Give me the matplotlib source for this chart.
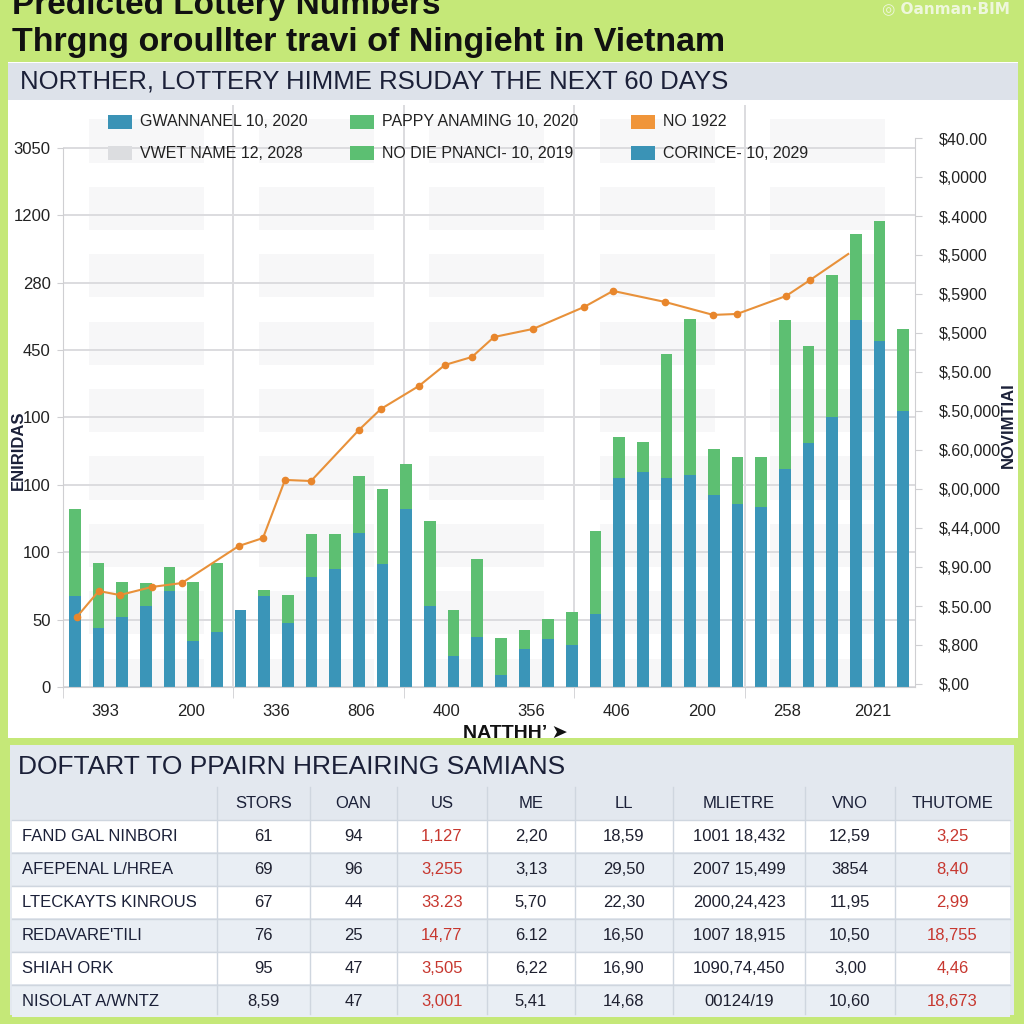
import numpy as np
import matplotlib
matplotlib.use('Agg')
import matplotlib.pyplot as plt
from matplotlib.patches import Rectangle
from matplotlib.transforms import blended_transform_factory

plt.rcParams['font.family'] = ['Liberation Sans', 'DejaVu Sans']

# ---- chart data (left-axis units) ----
blue_vals = [67.5, 43.8, 51.9, 60.1, 71.2, 34.1, 40.8, 57.1, 67.5, 47.5, 81.6, 87.5,
             114.2, 91.2, 132.0, 60.1, 23.0, 37.1, 8.9, 28.2, 35.6, 31.2, 54.2, 155.0,
             159.5, 155.0, 157.3, 142.4, 135.7, 133.5, 161.7, 181.0, 200.3, 272.2, 256.7, 204.7]
green_vals = [64.5, 48.2, 26.0, 17.0, 17.8, 43.8, 51.2, 0.0, 4.5, 20.7, 31.9, 26.0,
              42.3, 55.7, 33.4, 63.0, 34.1, 57.9, 27.4, 14.1, 14.8, 24.4, 61.5, 30.5,
              22.2, 92.0, 115.7, 34.1, 34.9, 37.1, 110.5, 72.0, 105.3, 63.8, 89.0, 60.9]
line_x = [0.08, 1.01, 1.90, 3.25, 4.52, 6.93, 7.95, 8.88, 9.98, 12.0, 12.93, 14.54,
          15.64, 16.78, 17.71, 19.36, 21.52, 22.74, 24.94, 26.97, 27.98, 30.05, 31.07, 32.68]
line_y = [51.9, 71.2, 68.2, 74.2, 77.1, 104.6, 110.5, 153.6, 152.8, 190.6, 206.2, 223.3,
          238.9, 244.8, 259.6, 265.6, 281.9, 293.8, 285.6, 276.0, 276.7, 290.0, 301.9, 321.2]

left_ticks = [0, 50, 100, 150, 200, 250, 300, 350, 400]
left_labels = ['0', '50', '100', '100', '100', '450', '280', '1200', '3050']
right_labels = ['$,00', '$,800', '$.50.00', '$,90.00', '$,44,000', '$,00,000', '$.60,000',
                '$.50,000', '$,50.00', '$,5000', '$,5900', '$,5000', '$.4000', '$,0000', '$40.00']
x_labels = ['393', '200', '336', '806', '400', '356', '406', '200', '258', '2021']

legend_items = [
    ('GWANNANEL 10, 2020', '#3b93b6'), ('PAPPY ANAMING 10, 2020', '#5cbf75'), ('NO 1922', '#f0953a'),
    ('VWET NAME 12, 2028', '#dcdde0'), ('NO DIE PNANCI- 10, 2019', '#5cbf72'), ('CORINCE- 10, 2029', '#3a93b6'),
]

# ---- table data ----
table_title = 'DOFTART TO PPAIRN HREAIRING SAMIANS'
col_names = ['STORS', 'OAN', 'US', 'ME', 'LL', 'MLIETRE', 'VNO', 'THUTOME']
row_names = ['FAND GAL NINBORI', 'AFEPENAL L/HREA', 'LTECKAYTS KINROUS',
             "REDAVARE'TILI", 'SHIAH ORK', 'NISOLAT A/WNTZ']
stors = ['61', '69', '67', '76', '95', '8,59']
oan = ['94', '96', '44', '25', '47', '47']
us = ['1,127', '3,255', '33.23', '14,77', '3,505', '3,001']
me = ['2,20', '3,13', '5,70', '6.12', '6,22', '5,41']
ll = ['18,59', '29,50', '22,30', '16,50', '16,90', '14,68']
mlietre = ['1001 18,432', '2007 15,499', '2000,24,423', '1007 18,915', '1090,74,450', '00124/19']
vno = ['12,59', '3854', '11,95', '10,50', '3,00', '10,60']
thutome = ['3,25', '8,40', '2,99', '18,755', '4,46', '18,673']
red_cols = {'US', 'THUTOME'}

BLUE = '#3a95b8'
GREEN = '#5dbf72'
ORANGE = '#e8913a'
NAVY = '#1b2038'

fig = plt.figure(figsize=(10.24, 10.24), dpi=100, facecolor='#c5e878')

# background overlay in pixel coordinates
bg = fig.add_axes([0, 0, 1, 1], zorder=-2)
bg.set_xlim(0, 1024)
bg.set_ylim(1024, 0)
bg.axis('off')
bg.add_patch(Rectangle((8, 62), 1010, 676, facecolor='white', edgecolor='none'))
bg.add_patch(Rectangle((8, 63), 1010, 37, facecolor='#dde2ea', edgecolor='none'))
bg.text(20, 82, 'NORTHER, LOTTERY HIMME RSUDAY THE NEXT 60 DAYS', fontsize=18.5,
        color=NAVY, va='center', ha='left')
bg.text(12, 14, 'Predicted Lottery Numbers', fontsize=24, fontweight='bold',
        color='#111111', va='baseline', ha='left')
bg.text(12, 51, 'Thrgng oroullter travi of Ningieht in Vietnam', fontsize=24.5,
        fontweight='bold', color='#111111', va='baseline', ha='left')
bg.text(1010, 9, '\u25CE Oanman\u00b7BIM', fontsize=11, fontweight='bold',
        color='#eef7dc', va='center', ha='right', family=['DejaVu Sans'])

# ---- main chart ----
ax = fig.add_axes([63 / 1024, 1 - 687 / 1024, 852 / 1024, 582 / 1024], zorder=1)
ax.set_facecolor('none')
x = np.arange(len(blue_vals))
ax.set_xlim(-0.5, len(blue_vals) - 0.5)
ax.set_ylim(0, 431.7)

# faint background blocks
tr = blended_transform_factory(ax.transAxes, ax.transData)
for j in range(5):
    for v in left_ticks:
        ax.add_patch(Rectangle((0.2 * j + 0.03, v + 5 - 16), 0.135, 32, transform=tr,
                               facecolor='#f7f7f8', edgecolor='none', zorder=0.1, clip_on=True))

for v in left_ticks:
    ax.axhline(v, color='#dcdcdf', lw=1.4, zorder=0.5)
for fx in [0.2, 0.4, 0.6, 0.8]:
    ax.axvline(-0.5 + fx * 36, color='#dcdcdf', lw=1.4, zorder=0.5)

ax.bar(x, blue_vals, width=0.5, color=BLUE, zorder=2)
ax.bar(x, green_vals, width=0.5, bottom=blue_vals, color=GREEN, zorder=2)
ax.plot(line_x, line_y, color=ORANGE, lw=1.5, marker='o', ms=4.5,
        markevery=list(range(len(line_x) - 1)), mfc='#e8862c', mec='#e8862c', zorder=3)

for s in ['top', 'right']:
    ax.spines[s].set_visible(False)
ax.spines['left'].set_color('#cfcfd2')
ax.spines['bottom'].set_color('#cfcfd2')
ax.spines['left'].set_bounds(0, 400)

ax.set_yticks(left_ticks)
ax.set_yticklabels(left_labels)
ax.tick_params(axis='y', length=4, color='#cfcfd2', labelsize=12, labelcolor='#222222', pad=5)
xt = [-0.5 + 3.6 * (k + 0.5) for k in range(10)]
ax.set_xticks(xt)
ax.set_xticklabels(x_labels)
ax.set_xticks([-0.5 + 7.2 * j for j in range(5)], minor=True)
ax.tick_params(axis='x', which='major', length=0, labelsize=12, labelcolor='#222222', pad=12)
ax.tick_params(axis='x', which='minor', length=8, color='#cfcfd2')

ax2 = ax.twinx()
ax2.set_ylim(-0.077, 14.85)
ax2.set_yticks(range(len(right_labels)))
ax2.set_yticklabels(right_labels)
ax2.tick_params(axis='y', length=5, color='#cfcfd2', labelsize=11.5, labelcolor='#222222', pad=12)
for s in ['top', 'left', 'bottom']:
    ax2.spines[s].set_visible(False)
ax2.spines['right'].set_color('#cfcfd2')
ax2.spines['right'].set_bounds(-0.077, 14.0)

# ---- overlay for labels, legend, table ----
top = fig.add_axes([0, 0, 1, 1], zorder=5)
top.set_xlim(0, 1024)
top.set_ylim(1024, 0)
top.axis('off')
top.patch.set_alpha(0)

top.text(18, 450, 'ENIRIDAS', rotation=90, fontsize=12, fontweight='bold', color=NAVY,
         va='center', ha='center')
top.text(1008, 425, 'NOVIMTIAI', rotation=90, fontsize=12, fontweight='bold', color=NAVY,
         va='center', ha='center')
top.text(515, 733, 'NATTHH\u2019 \u27A4', fontsize=14, fontweight='bold', color='#111111',
         va='center', ha='center', family=['Liberation Sans', 'DejaVu Sans'])

leg_x = [108, 350, 631]
leg_y = [122, 153]
for i, (name, col) in enumerate(legend_items):
    r, c = divmod(i, 3)
    top.add_patch(Rectangle((leg_x[c], leg_y[r] - 7), 24, 14, facecolor=col, edgecolor='none'))
    top.text(leg_x[c] + 32, leg_y[r], name, fontsize=11.5, color='#222222', va='center', ha='left')

# table panel
top.add_patch(Rectangle((10, 745), 1004, 270, facecolor='#e3e8ef', edgecolor='none'))
top.text(18, 767, table_title, fontsize=19, color=NAVY, va='center', ha='left')
edges = [12, 217, 310, 397, 487, 575, 673, 805, 895, 1010]
header_top, row_h = 787, 33
columns = [stors, oan, us, me, ll, mlietre, vno, thutome]
for ci, name in enumerate(col_names):
    cx = (edges[ci + 1] + edges[ci + 2]) / 2
    top.text(cx, header_top + 16, name, fontsize=12, color=NAVY, va='center', ha='center')
for ri, rname in enumerate(row_names):
    y0 = header_top + row_h * (ri + 1)
    fc = 'white' if ri % 2 == 0 else '#e9eef4'
    top.add_patch(Rectangle((edges[0], y0), edges[-1] - edges[0], row_h - 1,
                            facecolor=fc, edgecolor='none'))
    top.text(22, y0 + row_h / 2, rname, fontsize=12, color=NAVY, va='center', ha='left')
    for ci, name in enumerate(col_names):
        cx = (edges[ci + 1] + edges[ci + 2]) / 2
        colr = '#c7372f' if name in red_cols else '#1e2030'
        top.text(cx, y0 + row_h / 2, columns[ci][ri], fontsize=12, color=colr,
                 va='center', ha='center')
for e in edges[1:-1]:
    top.plot([e, e], [header_top, header_top + row_h * 7 - 4], color='#cfd6df', lw=1)
for k in range(1, 7):
    yy = header_top + row_h * k
    top.plot([edges[0], edges[-1]], [yy, yy], color='#cfd6df', lw=1)

fig.savefig('out.png', dpi=100, facecolor=fig.get_facecolor())
